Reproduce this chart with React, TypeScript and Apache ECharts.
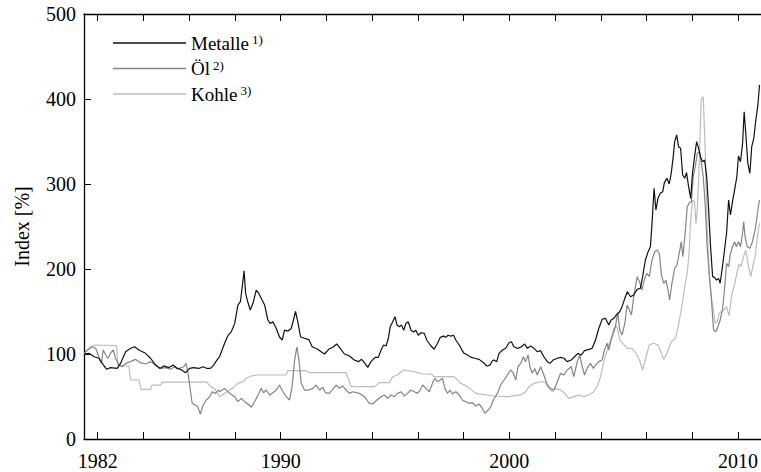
import React, { useEffect, useRef } from "react";
import * as echarts from "echarts";

// Index series (start = 100), sampled as [year, index %]
const metalle: [number, number][] = [
  [1981.4, 100], [1981.62, 100.8], [1981.84, 96.8], [1982.05, 95], [1982.2, 89], [1982.39, 82],
  [1982.56, 84], [1982.85, 83], [1983.0, 89], [1983.22, 102.7], [1983.44, 106.7], [1983.61, 108.6],
  [1983.8, 104.7], [1984.09, 100.8], [1984.31, 95], [1984.53, 87], [1984.72, 83], [1984.89, 86],
  [1985.11, 84], [1985.3, 87], [1985.47, 83], [1985.62, 82], [1985.84, 78], [1986.02, 83],
  [1986.2, 84], [1986.42, 83], [1986.61, 85], [1986.78, 83], [1986.93, 83], [1987.07, 87],
  [1987.22, 93], [1987.33, 97], [1987.55, 112.6], [1987.7, 122], [1987.84, 126], [1987.99, 136],
  [1988.13, 157.6], [1988.24, 161.5], [1988.32, 179], [1988.4, 198], [1988.47, 171], [1988.56, 161.5],
  [1988.67, 151.8], [1988.79, 159.6], [1988.93, 175], [1989.05, 171], [1989.15, 165.5], [1989.3, 157.6],
  [1989.44, 140], [1989.54, 136], [1989.66, 138], [1989.81, 130], [1989.95, 120], [1990.07, 116.5],
  [1990.17, 128], [1990.32, 127], [1990.46, 130], [1990.56, 140], [1990.65, 150], [1990.75, 138],
  [1990.87, 120], [1991.04, 118.5], [1991.23, 117], [1991.38, 108.6], [1991.62, 105.5], [1991.77, 102.7],
  [1991.92, 100], [1992.1, 105.5], [1992.28, 108], [1992.45, 111.8], [1992.6, 106.7], [1992.79, 100],
  [1993.01, 97.6], [1993.22, 93], [1993.4, 91], [1993.54, 93.7], [1993.66, 89.8], [1993.81, 84.3],
  [1993.95, 91], [1994.13, 96], [1994.27, 96], [1994.39, 104.7], [1994.5, 110.6], [1994.61, 109.4],
  [1994.71, 118.5], [1994.79, 132], [1994.9, 138], [1995.0, 143.9], [1995.09, 134], [1995.19, 132],
  [1995.29, 134], [1995.38, 128], [1995.48, 136], [1995.58, 138], [1995.7, 128], [1995.81, 126],
  [1995.91, 128], [1996.02, 122], [1996.13, 125], [1996.28, 124.3], [1996.39, 116.5], [1996.54, 110.6],
  [1996.71, 105.5], [1996.86, 112.6], [1996.98, 119.6], [1997.12, 121], [1997.22, 119.6], [1997.32, 122],
  [1997.44, 121], [1997.56, 122], [1997.66, 116.5], [1997.81, 110.6], [1997.91, 105.5], [1998.02, 100.8],
  [1998.17, 98.8], [1998.34, 96], [1998.49, 95], [1998.68, 93.7], [1998.87, 89.8], [1999.01, 85.9],
  [1999.16, 87], [1999.26, 92], [1999.33, 93], [1999.45, 91], [1999.55, 100.8], [1999.7, 104.7],
  [1999.84, 106.7], [1999.99, 113.3], [2000.09, 114.5], [2000.2, 108.6], [2000.35, 106.7], [2000.5, 108],
  [2000.67, 111.8], [2000.79, 106.7], [2000.93, 109.4], [2001.08, 106.7], [2001.22, 102.7], [2001.37, 103.9],
  [2001.51, 96.8], [2001.66, 91], [2001.78, 89], [2001.92, 93], [2002.1, 95], [2002.24, 96],
  [2002.39, 95], [2002.53, 91], [2002.71, 93], [2002.85, 96.8], [2003.0, 100.8], [2003.14, 98.8],
  [2003.29, 103.9], [2003.48, 105.5], [2003.62, 106.7], [2003.77, 116.5], [2003.91, 130], [2004.06, 140.8],
  [2004.2, 142], [2004.35, 134], [2004.45, 140], [2004.57, 142], [2004.68, 145.9], [2004.83, 150],
  [2004.93, 155.7], [2005.05, 165.5], [2005.16, 173.3], [2005.3, 167.4], [2005.44, 169.4], [2005.59, 176],
  [2005.73, 177.3], [2005.83, 191], [2005.95, 210.6], [2006.07, 220.4], [2006.17, 226.2], [2006.24, 253.7],
  [2006.33, 295], [2006.41, 269.4], [2006.5, 283], [2006.6, 289], [2006.71, 291], [2006.78, 301.6],
  [2006.89, 306.7], [2006.99, 300], [2007.08, 312.6], [2007.16, 330.2], [2007.23, 349.8], [2007.32, 357.6],
  [2007.4, 343.9], [2007.49, 342], [2007.58, 310.6], [2007.67, 306.7], [2007.75, 313.3], [2007.84, 296.8],
  [2007.93, 283], [2008.01, 312.6], [2008.1, 332.2], [2008.19, 349.8], [2008.28, 342], [2008.36, 332.2],
  [2008.45, 326.2], [2008.54, 328.2], [2008.63, 308.6], [2008.71, 273.3], [2008.8, 226.2], [2008.89, 191],
  [2008.97, 190.2], [2009.06, 187], [2009.15, 189], [2009.22, 183.2], [2009.32, 202.7], [2009.41, 222.4],
  [2009.5, 242], [2009.59, 281.2], [2009.67, 263.5], [2009.76, 279.2], [2009.85, 292.9], [2009.95, 308.6],
  [2010.02, 333], [2010.11, 326.2], [2010.2, 347.9], [2010.27, 385], [2010.34, 359.6], [2010.43, 324.3],
  [2010.52, 312.6], [2010.6, 343.9], [2010.69, 353.7], [2010.78, 375.3], [2010.87, 393], [2010.94, 416.5],
];

const oel: [number, number][] = [
  [1981.4, 100], [1981.55, 104.7], [1981.76, 108.6], [1981.91, 106.7], [1982.05, 96.8], [1982.16, 89],
  [1982.24, 104.7], [1982.35, 98.8], [1982.45, 95], [1982.56, 101], [1982.68, 104.7], [1982.78, 95],
  [1982.93, 87], [1983.07, 85], [1983.22, 89], [1983.44, 91], [1983.65, 93.7], [1983.87, 89.8],
  [1984.09, 88.2], [1984.31, 91], [1984.53, 87], [1984.75, 83], [1984.96, 84], [1985.18, 82],
  [1985.36, 85], [1985.54, 83], [1985.76, 85], [1985.86, 89], [1985.95, 77.3], [1986.05, 57.6],
  [1986.13, 42], [1986.27, 40], [1986.37, 38], [1986.49, 29.4], [1986.61, 40], [1986.75, 45.9],
  [1986.9, 49.8], [1987.0, 55.6], [1987.14, 53.7], [1987.29, 57.6], [1987.33, 55.6], [1987.55, 59.6],
  [1987.77, 53.7], [1987.99, 49.8], [1988.13, 43.9], [1988.28, 47.8], [1988.42, 43.9], [1988.57, 41.2],
  [1988.72, 37.3], [1988.86, 43.9], [1989.01, 51.8], [1989.15, 59.6], [1989.25, 54.5], [1989.37, 57.6],
  [1989.52, 51.8], [1989.66, 54.5], [1989.81, 57.6], [1989.95, 63.5], [1990.1, 55.6], [1990.24, 49.8],
  [1990.39, 45.9], [1990.5, 61.6], [1990.61, 93], [1990.71, 108], [1990.8, 93], [1990.9, 65.5],
  [1991.04, 57.6], [1991.23, 57.6], [1991.41, 59.6], [1991.55, 63.5], [1991.7, 57.6], [1991.84, 60.8],
  [1991.96, 54.5], [1992.13, 53.7], [1992.28, 58.4], [1992.42, 63.5], [1992.57, 59.6], [1992.71, 62.4],
  [1992.86, 57.6], [1993.01, 53.7], [1993.15, 55.6], [1993.44, 53.7], [1993.66, 49.8], [1993.88, 42],
  [1994.02, 41.2], [1994.21, 45.9], [1994.39, 49.8], [1994.53, 51.8], [1994.68, 47.8], [1994.82, 51.8],
  [1994.97, 49.8], [1995.11, 53.7], [1995.26, 55.6], [1995.41, 50.6], [1995.55, 53.7], [1995.7, 57.6],
  [1995.84, 55.6], [1995.99, 53.7], [1996.1, 57.6], [1996.21, 63.5], [1996.35, 59.6], [1996.5, 55.6],
  [1996.64, 65.5], [1996.74, 71.4], [1996.86, 67.4], [1996.98, 69.4], [1997.08, 71.4], [1997.18, 59.6],
  [1997.3, 53.7], [1997.41, 57.6], [1997.51, 53], [1997.66, 55.6], [1997.81, 51.8], [1997.95, 45.9],
  [1998.1, 43.9], [1998.24, 42], [1998.39, 42.7], [1998.53, 38.8], [1998.68, 41.2], [1998.82, 36.1],
  [1998.93, 30.2], [1999.07, 34.1], [1999.19, 38], [1999.3, 45.9], [1999.48, 53.7], [1999.62, 63.5],
  [1999.77, 69.4], [1999.91, 75.3], [2000.06, 81.2], [2000.18, 77.3], [2000.28, 69.4], [2000.38, 85],
  [2000.5, 89], [2000.61, 96.8], [2000.71, 91], [2000.82, 98.8], [2000.9, 85], [2001.0, 77.3],
  [2001.11, 83], [2001.22, 75.3], [2001.37, 85], [2001.51, 75.3], [2001.66, 63.5], [2001.8, 59.6],
  [2001.95, 57.6], [2002.1, 67.4], [2002.24, 77.3], [2002.39, 75.3], [2002.53, 81.2], [2002.71, 85],
  [2002.82, 73.3], [2002.97, 91], [2003.08, 98.8], [2003.19, 85], [2003.29, 75.3], [2003.4, 83],
  [2003.55, 89], [2003.67, 83], [2003.77, 87], [2003.91, 91], [2004.06, 93], [2004.16, 104.7],
  [2004.28, 112.6], [2004.35, 104.7], [2004.45, 116.5], [2004.57, 126.2], [2004.64, 132], [2004.74, 148.6],
  [2004.83, 128.2], [2004.93, 122.4], [2005.05, 136.1], [2005.15, 157.6], [2005.25, 151.8], [2005.34, 145.9],
  [2005.44, 167.4], [2005.59, 191], [2005.69, 185.1], [2005.8, 175.3], [2005.92, 189], [2006.02, 195],
  [2006.12, 191], [2006.24, 210.6], [2006.36, 220.4], [2006.46, 222.4], [2006.56, 218.4], [2006.65, 193],
  [2006.75, 183.2], [2006.85, 187], [2006.94, 175.3], [2007.01, 163.5], [2007.11, 183.2], [2007.23, 200.8],
  [2007.33, 204.7], [2007.43, 218.4], [2007.52, 232.1], [2007.59, 214.5], [2007.69, 242], [2007.78, 273.3],
  [2007.87, 278], [2007.96, 279.2], [2008.04, 308.6], [2008.13, 320.4], [2008.22, 336.1], [2008.31, 338],
  [2008.39, 326.2], [2008.48, 308.6], [2008.57, 273.3], [2008.65, 226.2], [2008.74, 195], [2008.83, 167.4],
  [2008.93, 128.2], [2009.03, 126.2], [2009.12, 132], [2009.22, 140], [2009.32, 151.8], [2009.41, 175.3],
  [2009.5, 206.7], [2009.59, 202.7], [2009.67, 218.4], [2009.76, 226.2], [2009.85, 232.1], [2009.93, 226.2],
  [2010.02, 232.1], [2010.11, 226.2], [2010.2, 242], [2010.25, 255.6], [2010.31, 238], [2010.4, 226.2],
  [2010.52, 224.3], [2010.63, 232.1], [2010.75, 245.9], [2010.87, 269.4], [2010.94, 281.2],
];

const kohle: [number, number][] = [
  [1981.4, 100], [1981.57, 105.5], [1981.76, 109.4], [1981.91, 110.6], [1982.83, 109.8], [1982.87, 87],
  [1983.36, 85.9], [1983.44, 69.4], [1983.8, 69.4], [1983.9, 58.4], [1984.31, 58.4], [1984.38, 63.5],
  [1984.75, 63.5], [1984.82, 67], [1986.78, 67], [1986.93, 61.6], [1987.1, 59.6], [1987.33, 49.8],
  [1987.55, 53.7], [1987.77, 57.6], [1987.99, 61.6], [1988.13, 65.5], [1988.35, 67.4], [1988.5, 71.4],
  [1988.72, 74.1], [1988.93, 75.3], [1990.24, 75.3], [1990.32, 80.4], [1991.12, 80.4], [1991.26, 78],
  [1992.86, 78], [1993.08, 61.6], [1994.1, 61.6], [1994.32, 66.3], [1994.75, 66.3], [1994.9, 73.3],
  [1995.11, 75.3], [1995.38, 81.2], [1995.84, 79.2], [1996.21, 76.5], [1996.57, 76.5], [1996.71, 73.3],
  [1997.59, 73.3], [1997.88, 65.5], [1998.17, 61.6], [1998.53, 53.7], [1999.33, 50.6], [1999.91, 49.8],
  [2000.5, 51.8], [2000.71, 55.6], [2000.86, 61.6], [2001.08, 65.5], [2001.37, 67.4], [2001.59, 66.3],
  [2001.73, 59.6], [2001.88, 55.6], [2002.02, 59.6], [2002.24, 57.6], [2002.46, 52.9], [2002.6, 47.8],
  [2002.82, 49.8], [2003.04, 51.8], [2003.26, 49.8], [2003.48, 51.8], [2003.69, 55.6], [2003.84, 61.6],
  [2003.99, 73.3], [2004.13, 91], [2004.28, 104.7], [2004.45, 118.5], [2004.57, 130.2], [2004.71, 132],
  [2004.83, 116.5], [2004.96, 112.6], [2005.15, 106.7], [2005.37, 106.7], [2005.54, 100.8], [2005.69, 93],
  [2005.83, 81.2], [2005.98, 96.8], [2006.12, 110.6], [2006.31, 112.6], [2006.5, 110.6], [2006.65, 100.8],
  [2006.75, 93.7], [2006.89, 100.8], [2007.08, 114.5], [2007.26, 118.5], [2007.37, 130.2], [2007.52, 151.8],
  [2007.67, 179.2], [2007.78, 195], [2007.87, 222.4], [2007.91, 249.8], [2008.01, 281.2], [2008.1, 279.2],
  [2008.16, 253.7], [2008.22, 269.4], [2008.31, 328.2], [2008.39, 398.8], [2008.48, 402.7], [2008.57, 336.1],
  [2008.65, 249.8], [2008.74, 195], [2008.83, 167.4], [2008.92, 151.8], [2009.0, 136], [2009.09, 138],
  [2009.18, 147.8], [2009.27, 150], [2009.38, 151.8], [2009.5, 155.7], [2009.61, 145], [2009.73, 170],
  [2009.85, 182], [2009.95, 195], [2010.05, 206], [2010.14, 202.7], [2010.24, 214.5], [2010.34, 222],
  [2010.46, 202.7], [2010.56, 191], [2010.66, 204.7], [2010.75, 214.5], [2010.87, 242], [2010.94, 253.7],
];

const seriesNames = ["Metalle", "Öl", "Kohle"];
const footnotes = ["1)", "2)", "3)"];
const xTicks = [1982, 1984, 1986, 1988, 1990, 1992, 1994, 1996, 1998, 2000, 2002, 2004, 2006, 2008, 2010];
const xLabels = [1982, 1990, 2000, 2010];
const xMin = 1981.4;
const xMax = 2011;

const FONT = '"Liberation Serif", "Times New Roman", serif';

export default function App() {
  const ref = useRef<HTMLDivElement>(null);

  useEffect(() => {
    if (!ref.current) return;
    const chart = echarts.init(ref.current, undefined, { renderer: "svg" });

    const axisLine = { show: true, lineStyle: { color: "#000", width: 1.3 } };
    const tick = { show: true, inside: true, length: 7, lineStyle: { color: "#000", width: 1 } };

    chart.setOption({
      animation: false,
      backgroundColor: "#fff",
      grid: { left: 84, right: -1, top: 14, bottom: 33, containLabel: false },
      legend: {
        orient: "vertical",
        left: 113,
        top: 33,
        padding: 0,
        icon: "rect",
        itemWidth: 73,
        itemHeight: 1.4,
        itemGap: 6,
        data: seriesNames,
        formatter: (name: string) => `{n|${name}} {s|${footnotes[seriesNames.indexOf(name)]}}`,
        textStyle: {
          fontFamily: FONT,
          color: "#000",
          rich: {
            n: { fontFamily: FONT, fontSize: 19, color: "#000", lineHeight: 20 },
            s: { fontFamily: FONT, fontSize: 13, color: "#000", verticalAlign: "top", lineHeight: 20 },
          },
        },
      },
      xAxis: [
        {
          type: "value",
          position: "bottom",
          min: xMin,
          max: xMax,
          axisLine,
          axisTick: { ...tick, customValues: xTicks },
          axisLabel: {
            customValues: xLabels,
            formatter: (v: number) => String(v),
            fontFamily: FONT,
            fontSize: 20,
            color: "#000",
            margin: 12,
          },
          splitLine: { show: false },
        },
        {
          type: "value",
          position: "top",
          min: xMin,
          max: xMax,
          axisLine,
          axisTick: { ...tick, customValues: xTicks },
          axisLabel: { show: false },
          splitLine: { show: false },
        },
      ],
      yAxis: {
        type: "value",
        min: 0,
        max: 500,
        interval: 100,
        name: "Index [%]",
        nameLocation: "middle",
        nameRotate: 90,
        nameGap: 52,
        nameTextStyle: { fontFamily: FONT, fontSize: 20, color: "#000" },
        axisLine,
        axisTick: tick,
        axisLabel: { fontFamily: FONT, fontSize: 20, color: "#000", margin: 8 },
        splitLine: { show: false },
      },
      series: [
        {
          name: "Kohle",
          type: "line",
          data: kohle,
          symbol: "none",
          lineStyle: { color: "#bcbcbc", width: 1.2 },
          itemStyle: { color: "#bcbcbc" },
        },
        {
          name: "Öl",
          type: "line",
          data: oel,
          symbol: "none",
          lineStyle: { color: "#858585", width: 1.2 },
          itemStyle: { color: "#858585" },
        },
        {
          name: "Metalle",
          type: "line",
          data: metalle,
          symbol: "none",
          lineStyle: { color: "#111", width: 1.2 },
          itemStyle: { color: "#111" },
        },
      ],
    });

    return () => chart.dispose();
  }, []);

  return (
    <div
      ref={ref}
      style={{ position: "fixed", left: 0, top: 0, width: 761, height: 472, background: "#fff" }}
    />
  );
}
